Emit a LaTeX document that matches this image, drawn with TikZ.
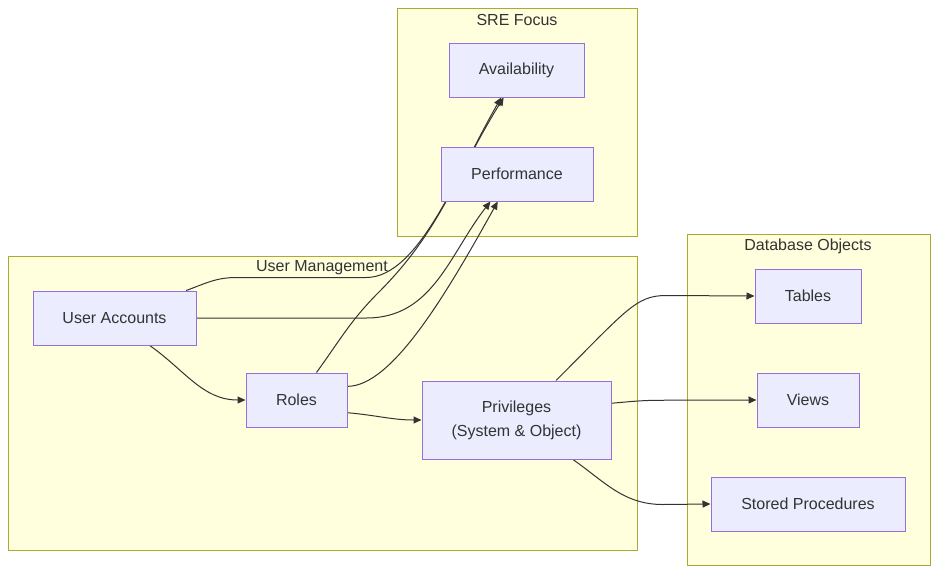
\documentclass[tikz,border=0pt]{standalone}
\usepackage{fontspec}
\setmainfont{Liberation Sans}
\usetikzlibrary{arrows.meta}
\usetikzlibrary{backgrounds}
\definecolor{clusterfill}{HTML}{FFFFDE}
\definecolor{clusterline}{HTML}{AAAA33}
\definecolor{boxfill}{HTML}{ECECFF}
\definecolor{boxline}{HTML}{9370DB}
\definecolor{ink}{HTML}{333333}
\pgfdeclarelayer{edges}
\pgfsetlayers{background,edges,main}

\begin{document}
\begin{tikzpicture}[x=1pt,y=-1pt,
  every node/.style={font=\fontsize{16}{24}\selectfont,text=ink},
  box/.style={draw=boxline,fill=boxfill,line width=1pt,minimum height=54pt,inner sep=0pt,align=center},
  cluster/.style={draw=clusterline,fill=clusterfill,line width=1pt},
  link/.style={draw=ink,line width=1pt,-{Triangle[length=8pt,width=7pt]}}]
\useasboundingbox (0,0) rectangle (938,574);
\begin{scope}[on background layer]
\draw[cluster] (397,8) rectangle (637,236);
\draw[cluster] (8,256) rectangle (637,550);
\draw[cluster] (687,234) rectangle (930,565);
\end{scope}
\node(srelabel) at (517,20) {SRE Focus};
\node(umlabel) at (322,268) {User Management};
\node(dblabel) at (808,246) {Database Objects};

\node[box,minimum width=135pt](avail) at (516.5,70) {Availability};
\node[box,minimum width=152pt](perf) at (517,174) {Performance};

\node[box,minimum width=163pt](ua) at (114.5,318) {User Accounts};
\node[box,minimum width=101pt](roles) at (296.5,400) {Roles};
\node[box,minimum width=189pt,minimum height=78pt](priv) at (516.5,420) {Privileges\\(System \& Object)};

\node[box,minimum width=106pt](tables) at (808,296) {Tables};
\node[box,minimum width=102pt](views) at (808,400) {Views};
\node[box,minimum width=194pt](sp) at (808,504) {Stored Procedures};

\begin{pgfonlayer}{edges}
\draw[link] (ua.-38) to[out=-35,in=180] (roles.west);
\draw[link] (roles.-14) to[out=-5,in=180] (priv.west);
\draw[link] (ua.21) to[out=20,in=180] ++(50,-13) -- ++(130,0) to[out=0,in=240,out looseness=0.6] (avail.-119);
\draw[link] (ua.east) -- ++(170,0) to[out=0,in=232] (perf.-134);
\draw[link] (roles.54) to[out=54,in=225] ++(62,-80) to[out=45,in=238] (avail.-115);
\draw[link] (roles.15) .. controls +(45,0) and +(-50,90) .. (perf.-125);
\draw[link] (priv.45) .. controls +(70,-70) and +(-30,0) .. ++(110,-85) -- (tables.west);
\draw[link] (priv.10) to[out=5,in=180] ++(50,-3) -- (views.west);
\draw[link] (priv.-35) to[out=-35,in=180] ++(90,45) -- (sp.west);
\end{pgfonlayer}
\end{tikzpicture}
\end{document}
